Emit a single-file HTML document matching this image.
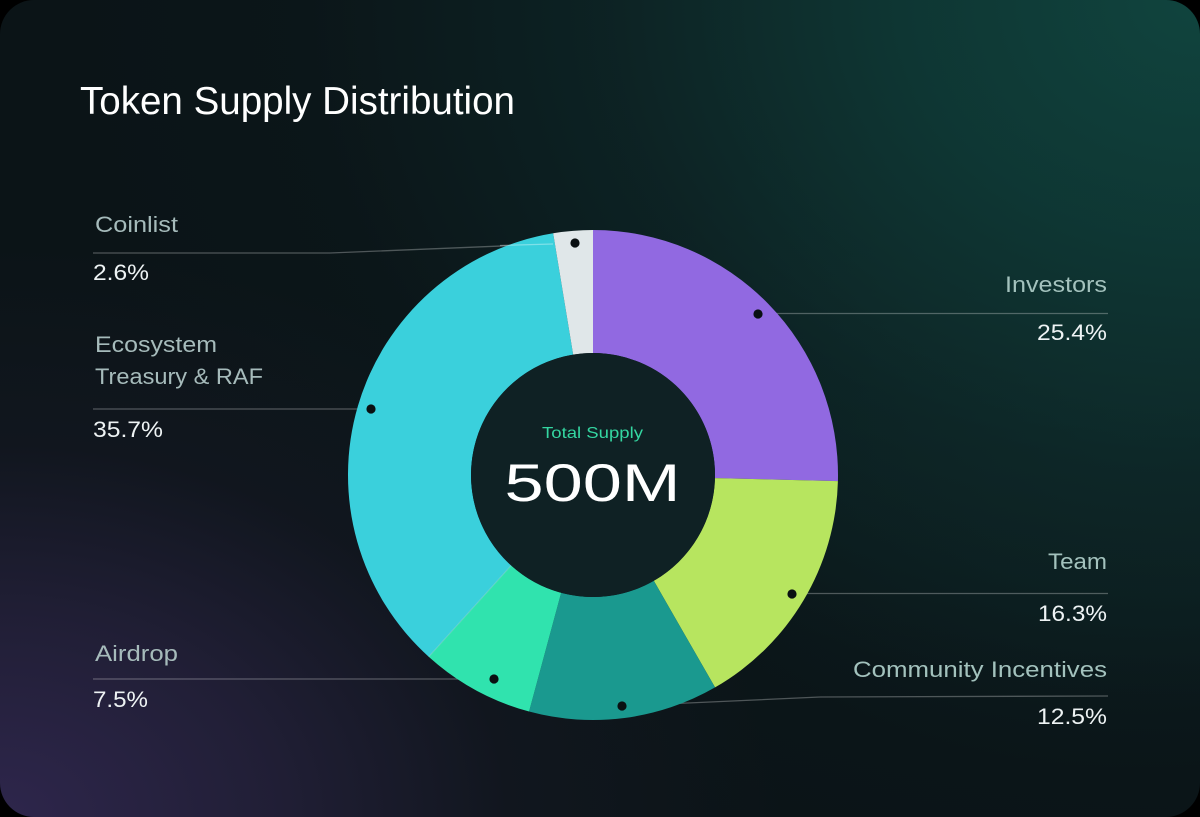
<!DOCTYPE html>
<html>
<head>
<meta charset="utf-8">
<style>
  html, body { margin: 0; padding: 0; background: #000; }
  body { width: 1200px; height: 817px; overflow: hidden; }
  .card {
    position: absolute; left: 0; top: 0; width: 1200px; height: 817px;
    border-radius: 34px; overflow: hidden;
    background:
      radial-gradient(ellipse 100% 115% at 100% 0%, rgba(16,68,62,1) 0%, rgba(15,60,56,0.85) 25%, rgba(14,45,45,0.55) 50%, rgba(12,28,32,0.2) 75%, rgba(12,22,26,0) 95%),
      radial-gradient(ellipse 45% 45% at 95% 50%, rgba(14,50,48,0.45) 0%, rgba(14,40,40,0) 100%),
      radial-gradient(ellipse 65% 70% at 0% 100%, rgba(46,38,76,1) 0%, rgba(40,34,64,0.75) 35%, rgba(28,26,44,0.35) 65%, rgba(12,20,24,0) 100%),
      #0b1417;
  }
  svg { position: absolute; left: 0; top: 0; }
  text { font-family: "Liberation Sans", "DejaVu Sans", sans-serif; }
</style>
</head>
<body>
<div class="card">
<svg width="1200" height="817" viewBox="0 0 1200 817" xmlns="http://www.w3.org/2000/svg">
  <!-- Title -->
  <text x="80" y="114" font-size="39" fill="#ffffff" textLength="435" lengthAdjust="spacingAndGlyphs">Token Supply Distribution</text>

  <!-- Leader lines (under donut) -->
  <g stroke="#ffffff" stroke-opacity="0.28" stroke-width="1.3" fill="none">
    <polyline points="93,253 330,253 575,243"/>
    <line x1="758" y1="313.5" x2="1108" y2="313.5"/>
    <line x1="93" y1="409" x2="371" y2="409"/>
    <line x1="792" y1="593.5" x2="1108" y2="593.5"/>
    <line x1="93" y1="679" x2="494" y2="679"/>
    <polyline points="622,706 820,697 1108,696"/>
  </g>

  <!-- Donut -->
  <g>
    <path d="M593,230 A245,245 0 0 1 837.92,481.16 L714.96,478.07 A122,122 0 0 0 593,353 Z" fill="#9169e1"/>
    <path d="M837.92,481.16 A245,245 0 0 1 715.05,687.43 L653.78,580.78 A122,122 0 0 0 714.96,478.07 Z" fill="#b7e55f"/>
    <path d="M715.05,687.43 A245,245 0 0 1 529.08,711.52 L561.17,592.78 A122,122 0 0 0 653.78,580.78 Z" fill="#1a998f"/>
    <path d="M529.08,711.52 A245,245 0 0 1 428.68,656.73 L511.18,565.49 A122,122 0 0 0 561.17,592.78 Z" fill="#30e3ae"/>
    <path d="M428.68,656.73 A245,245 0 0 1 553.15,233.26 L573.16,354.62 A122,122 0 0 0 511.18,565.49 Z" fill="#3ad0dc"/>
    <path d="M553.15,233.26 A245,245 0 0 1 593,230 L593,353 A122,122 0 0 0 573.16,354.62 Z" fill="#e0e7e9"/>
    <line x1="428.68" y1="656.73" x2="511.18" y2="565.49" stroke="#ffffff" stroke-opacity="0.25" stroke-width="1"/>
    <circle cx="593" cy="475" r="122" fill="#0f2124"/>
  </g>

  <line x1="500" y1="245.5" x2="553" y2="244" stroke="#ffffff" stroke-opacity="0.35" stroke-width="1.2"/>

  <!-- Dots -->
  <g fill="#0a1012">
    <circle cx="575" cy="243" r="4.6"/>
    <circle cx="758" cy="314" r="4.6"/>
    <circle cx="371" cy="409" r="4.6"/>
    <circle cx="792" cy="594" r="4.6"/>
    <circle cx="494" cy="679" r="4.6"/>
    <circle cx="622" cy="706" r="4.6"/>
  </g>

  <!-- Center text -->
  <text x="592.5" y="438" font-size="16" fill="#34d6a1" text-anchor="middle" textLength="101" lengthAdjust="spacingAndGlyphs">Total Supply</text>
  <text x="592.5" y="501" font-size="53" fill="#ffffff" text-anchor="middle" textLength="176" lengthAdjust="spacingAndGlyphs">500M</text>

  <!-- Left labels -->
  <g font-size="22" fill="#a6bbbb">
    <text x="95" y="232" textLength="83" lengthAdjust="spacingAndGlyphs">Coinlist</text>
    <text x="95" y="352" textLength="122" lengthAdjust="spacingAndGlyphs">Ecosystem</text>
    <text x="95" y="384" textLength="168" lengthAdjust="spacingAndGlyphs">Treasury &amp; RAF</text>
    <text x="95" y="661" textLength="83" lengthAdjust="spacingAndGlyphs">Airdrop</text>
  </g>
  <g font-size="22.5" fill="#eef3f4">
    <text x="93" y="280" textLength="56" lengthAdjust="spacingAndGlyphs">2.6%</text>
    <text x="93" y="437" textLength="70" lengthAdjust="spacingAndGlyphs">35.7%</text>
    <text x="93" y="707" textLength="55" lengthAdjust="spacingAndGlyphs">7.5%</text>
  </g>

  <!-- Right labels -->
  <g font-size="22" fill="#a3c2bd" text-anchor="end">
    <text x="1107" y="292" textLength="102" lengthAdjust="spacingAndGlyphs">Investors</text>
    <text x="1107" y="569" textLength="59" lengthAdjust="spacingAndGlyphs">Team</text>
    <text x="1107" y="677" textLength="254" lengthAdjust="spacingAndGlyphs">Community Incentives</text>
  </g>
  <g font-size="22.5" fill="#eef3f4" text-anchor="end">
    <text x="1107" y="340" textLength="70" lengthAdjust="spacingAndGlyphs">25.4%</text>
    <text x="1107" y="621" textLength="69" lengthAdjust="spacingAndGlyphs">16.3%</text>
    <text x="1107" y="724" textLength="70" lengthAdjust="spacingAndGlyphs">12.5%</text>
  </g>
</svg>
</div>
</body>
</html>
